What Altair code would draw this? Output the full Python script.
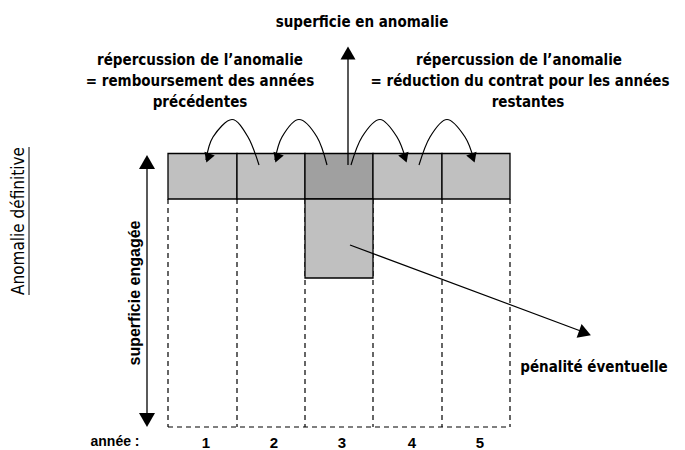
import altair as alt
import pandas as pd

# ---- diagram data (page pixel coordinate system) ----
cell_edges = [168, 237, 305, 373, 442, 510]
cell_fill = ["#c0c0c0", "#c0c0c0", "#a0a0a0", "#c0c0c0", "#c0c0c0"]
row_top = 153.5
row_bottom = 199
penalty_left, penalty_right, penalty_bottom = 305, 373, 278
engaged_bottom = 427

years = ["1", "2", "3", "4", "5"]
year_x = [206, 274, 342, 412, 480]
year_y = [443, 443, 443, 443, 443]

# curved arrows (tail -> mid -> peak -> mid -> head)
arc_id = [1] * 5 + [2] * 5 + [3] * 5 + [4] * 5
arc_x = [259, 248, 232, 213, 206,
         327, 317, 299, 282, 275,
         351, 362, 380, 397, 406,
         419, 430, 447, 465, 474]
arc_y = [165, 137, 119.5, 137, 160,
         165, 137, 119.5, 137, 160,
         165, 137, 119.5, 137, 160,
         165, 137, 119.5, 137, 160]

# arrow heads
head_x = [208, 277, 405, 473, 348, 147, 147, 585]
head_y = [158, 158, 158, 158, 53, 162, 420, 333]
head_shape = ["triangle-down"] * 4 + ["triangle-up", "triangle-up", "triangle-down", "triangle-right"]
head_angle = [20, 20, 340, 340, 0, 0, 0, 20]
head_size = [120, 120, 120, 120, 225, 256, 256, 210]

# straight arrow shafts
shaft_x = [348, 147, 350]
shaft_y = [165, 160, 245]
shaft_x2 = [348, 147, 586]
shaft_y2 = [56, 422, 333]

# bold labels
label_text = ["superficie en anomalie",
              "répercussion de l’anomalie", "= remboursement des années", "précédentes",
              "répercussion de l’anomalie", "= réduction du contrat pour les années", "restantes",
              "pénalité éventuelle"]
label_x = [362, 200, 200, 200, 519, 520, 528, 594]
label_y = [22, 60, 81, 102, 60, 81, 102, 367]

X_DOM = [8, 677]
Y_DOM = [8, 450]
xs = alt.Scale(domain=X_DOM, nice=False, zero=False)
ys = alt.Scale(domain=Y_DOM, nice=False, zero=False, reverse=True)

FONT_C = "DejaVu Sans Condensed, Liberation Sans Narrow, sans-serif"
FONT = "Liberation Sans, Arial, Helvetica, sans-serif"

cells = pd.DataFrame({"x": cell_edges[:-1], "x2": cell_edges[1:],
                      "y": [row_top] * 5, "y2": [row_bottom] * 5, "fill": cell_fill})
penalty = pd.DataFrame({"x": [penalty_left], "x2": [penalty_right],
                        "y": [row_bottom], "y2": [penalty_bottom]})
dash_v = pd.DataFrame({"x": cell_edges, "y": [row_bottom] * 6, "y2": [engaged_bottom] * 6})
dash_h = pd.DataFrame({"x": [cell_edges[0]], "x2": [cell_edges[-1]], "y": [engaged_bottom]})
arcs = pd.DataFrame({"id": arc_id, "x": arc_x, "y": arc_y, "o": list(range(len(arc_x)))})
heads = pd.DataFrame({"x": head_x, "y": head_y, "shape": head_shape,
                      "angle": head_angle, "size": head_size})
shafts = pd.DataFrame({"x": shaft_x, "y": shaft_y, "x2": shaft_x2, "y2": shaft_y2})
labels = pd.DataFrame({"t": label_text, "x": label_x, "y": label_y})
year_df = pd.DataFrame({"t": years, "x": year_x, "y": year_y})

X = lambda f: alt.X(f, scale=xs, axis=None)
Y = lambda f: alt.Y(f, scale=ys, axis=None)

l_dash_v = alt.Chart(dash_v).mark_rule(color="black", strokeWidth=1.2, strokeDash=[5, 4]).encode(
    x=X("x:Q"), y=Y("y:Q"), y2="y2:Q")
l_dash_h = alt.Chart(dash_h).mark_rule(color="black", strokeWidth=1.2, strokeDash=[5, 4]).encode(
    x=X("x:Q"), x2="x2:Q", y=Y("y:Q"))
l_cells = alt.Chart(cells).mark_rect(stroke="black", strokeWidth=1.3).encode(
    x=X("x:Q"), x2="x2:Q", y=Y("y:Q"), y2="y2:Q", fill=alt.Fill("fill:N", scale=None))
l_pen = alt.Chart(penalty).mark_rect(stroke="black", strokeWidth=1.3, fill="#c0c0c0").encode(
    x=X("x:Q"), x2="x2:Q", y=Y("y:Q"), y2="y2:Q")
l_arcs = alt.Chart(arcs).mark_line(color="black", strokeWidth=1.2, interpolate="cardinal").encode(
    x=X("x:Q"), y=Y("y:Q"), detail="id:N", order="o:Q")
l_shafts = alt.Chart(shafts).mark_rule(color="black", strokeWidth=1.3).encode(
    x=X("x:Q"), y=Y("y:Q"), x2="x2:Q", y2="y2:Q")
l_heads = alt.Chart(heads).mark_point(filled=True, color="black", opacity=1, strokeWidth=0).encode(
    x=X("x:Q"), y=Y("y:Q"), shape=alt.Shape("shape:N", scale=None),
    angle=alt.Angle("angle:Q", scale=None), size=alt.Size("size:Q", scale=None))
l_labels = alt.Chart(labels).mark_text(font=FONT_C, fontWeight="bold", fontSize=15,
                                       color="black", align="center", baseline="middle").encode(
    x=X("x:Q"), y=Y("y:Q"), text="t:N")
l_years = alt.Chart(year_df).mark_text(font=FONT, fontWeight="bold", fontSize=15,
                                       color="black", align="center", baseline="middle").encode(
    x=X("x:Q"), y=Y("y:Q"), text="t:N")

side = pd.DataFrame({"t": ["année :"], "x": [115], "y": [442]})
l_annee = alt.Chart(side).mark_text(font=FONT, fontWeight="bold", fontSize=14, color="black",
                                    align="center", baseline="middle").encode(
    x=X("x:Q"), y=Y("y:Q"), text="t:N")

vert_eng = pd.DataFrame({"t": ["superficie engagée"], "x": [135], "y": [293]})
l_eng = alt.Chart(vert_eng).mark_text(font=FONT, fontWeight="bold", fontSize=16, color="black",
                                      angle=270, align="center", baseline="middle").encode(
    x=X("x:Q"), y=Y("y:Q"), text="t:N")

vert_ano = pd.DataFrame({"t": ["Anomalie définitive"], "x": [19], "y": [221]})
l_ano = alt.Chart(vert_ano).mark_text(font=FONT_C, fontSize=17, color="black",
                                      angle=270, align="center", baseline="middle").encode(
    x=X("x:Q"), y=Y("y:Q"), text="t:N")
underline = pd.DataFrame({"x": [29], "y": [147], "y2": [295]})
l_ul = alt.Chart(underline).mark_rule(color="black", strokeWidth=1).encode(
    x=X("x:Q"), y=Y("y:Q"), y2="y2:Q")

chart = alt.layer(
    l_dash_v, l_dash_h, l_cells, l_pen, l_arcs, l_shafts, l_heads,
    l_labels, l_years, l_annee, l_eng, l_ano, l_ul
).properties(
    width=669, height=442, padding=0, autosize=alt.AutoSizeParams(type="none"),
    background="white"
).configure_view(stroke=None)

chart.save("out.html", embed_options={"renderer": "svg", "actions": False})
